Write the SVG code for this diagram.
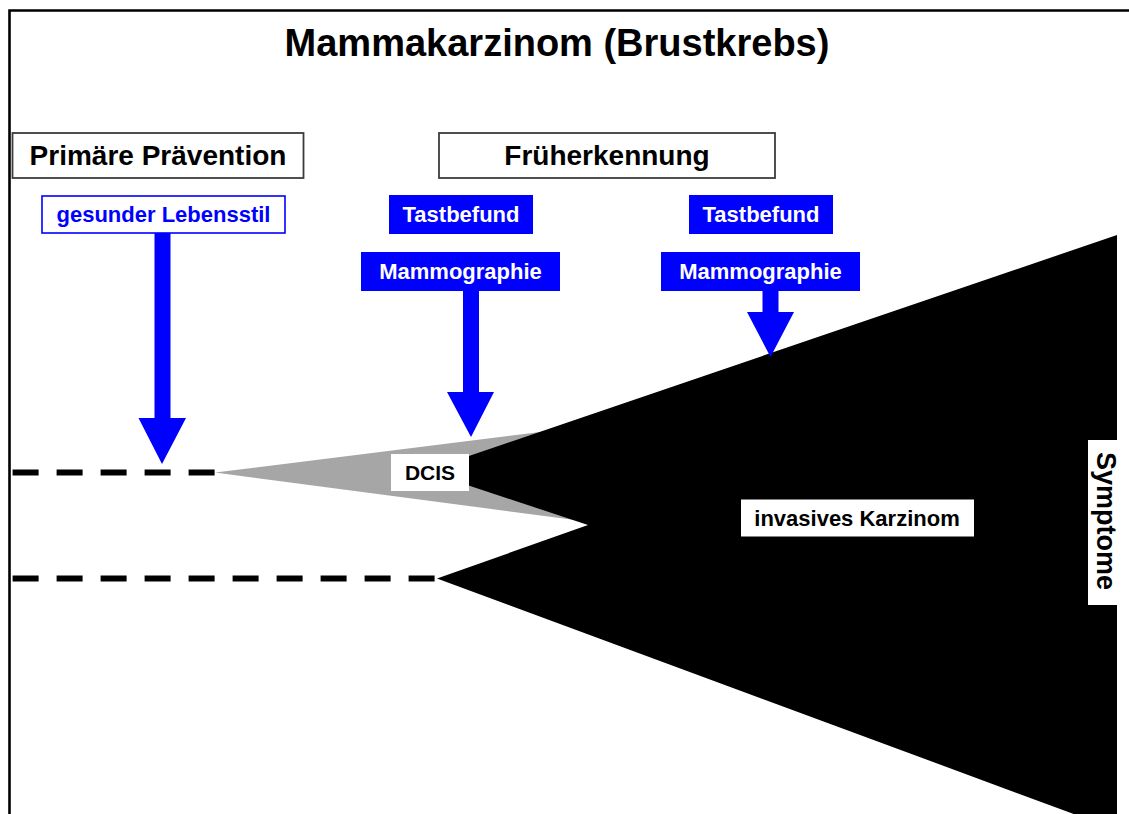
<svg xmlns="http://www.w3.org/2000/svg" width="1129" height="814" viewBox="0 0 1129 814">
<style>
text{font-family:"Liberation Sans",Arial,sans-serif;font-weight:bold;text-anchor:middle}
.hdr{fill:#fff;stroke:#3c3c3c;stroke-width:1.8}
.hdrt{font-size:28px;fill:#000}
.blue{fill:#0000ff}
.bt{font-size:22px;fill:#fff}
.wbox{fill:#fff}
.dash{stroke:#000;stroke-width:6;stroke-dasharray:26 18;fill:none}
.arr{fill:#0000ff}
</style>
<rect width="1129" height="814" fill="#fff"/>
<g id="frame">
<path d="M9.5 814 V10.5 H1129" fill="none" stroke="#000" stroke-width="2.6"/>
</g>
<g id="title"><text x="557" y="56" style="font-size:38px">Mammakarzinom (Brustkrebs)</text></g>
<g id="shapes">
<polygon points="215,472.5 548,431 575,520" fill="#a6a6a6"/>
<polygon points="425,471 1117,235 1117,830 437,578.5 588,525" fill="#000"/>
</g>
<g id="connectors">
<line class="dash" x1="12.6" y1="472.5" x2="215" y2="472.5"/>
<line class="dash" x1="12.6" y1="578.5" x2="437" y2="578.5"/>
<polygon class="arr" points="154.5,233 170.5,233 170.5,418 186,418 162,464 138.5,418 154.5,418"/>
<polygon class="arr" points="463,290 479,290 479,392 494,392 471,437 447,392 463,392"/>
<polygon class="arr" points="762.5,290 778.5,290 778.5,312 794,312 770.5,357 747,312 762.5,312"/>
</g>
<g id="node-praevention">
<rect class="hdr" x="12.5" y="133" width="291" height="45"/>
<text class="hdrt" x="158" y="165">Primäre Prävention</text>
</g>
<g id="node-frueherkennung">
<rect class="hdr" x="439" y="133" width="336" height="45"/>
<text class="hdrt" x="607" y="165">Früherkennung</text>
</g>
<g id="node-lebensstil">
<rect x="42" y="196" width="243" height="37" fill="#fff" stroke="#0000ff" stroke-width="1.6"/>
<text x="163.5" y="222" style="font-size:22px;fill:#0000ff">gesunder Lebensstil</text>
</g>
<g id="node-tast1">
<rect class="blue" x="389" y="195" width="144" height="39"/>
<text class="bt" x="461" y="222">Tastbefund</text>
</g>
<g id="node-mammo1">
<rect class="blue" x="361" y="252" width="199" height="39"/>
<text class="bt" x="460.5" y="279">Mammographie</text>
</g>
<g id="node-tast2">
<rect class="blue" x="689" y="195" width="144" height="39"/>
<text class="bt" x="761" y="222">Tastbefund</text>
</g>
<g id="node-mammo2">
<rect class="blue" x="661" y="252" width="199" height="39"/>
<text class="bt" x="760.5" y="279">Mammographie</text>
</g>
<g id="node-dcis">
<rect class="wbox" x="391" y="454" width="78" height="37"/>
<text x="430" y="480" style="font-size:21px;fill:#000">DCIS</text>
</g>
<g id="node-invasiv">
<rect class="wbox" x="741" y="499.5" width="233" height="37"/>
<text x="857" y="526" style="font-size:22px;fill:#000">invasives Karzinom</text>
</g>
<g id="node-symptome">
<rect class="wbox" x="1088" y="440" width="29" height="165"/>
<text transform="translate(1097,521) rotate(90)" style="font-size:27px;fill:#000">Symptome</text>
</g>
</svg>
